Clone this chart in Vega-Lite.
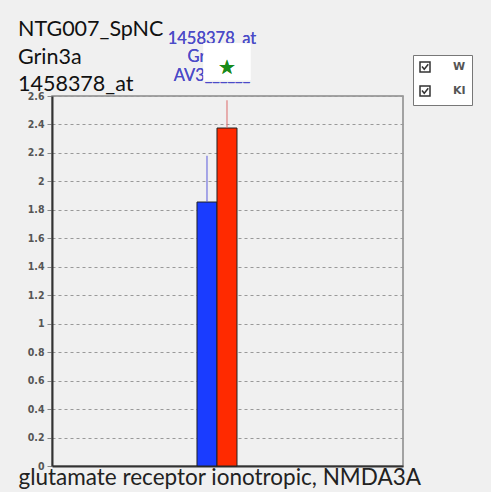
{
  "$schema": "https://vega.github.io/schema/vega-lite/v6.json",
  "autosize": "none",
  "padding": {"left": 52, "top": 96, "right": 88, "bottom": 26},
  "width": 351,
  "height": 370,
  "background": "#f0f0f0",
  "config": {
    "view": {"stroke": "#888888", "strokeWidth": 1.5},
    "font": "Lato",
    "axisY": {
      "labelOverlap": false,
      "title": null,
      "grid": true,
      "domainColor": "#333333",
      "domainWidth": 2,
      "tickColor": "#888888",
      "tickSize": 5,
      "labelFont": "DejaVu Sans Condensed",
      "labelFontSize": 10.5,
      "labelFontWeight": "bold",
      "labelColor": "#555555",
      "labelPadding": 3,
      "gridDash": [3, 3],
      "gridColor": "#999999",
      "gridWidth": 1
    }
  },
  "title": {
    "text": ["NTG007_SpNC", "Grin3a", "1458378_at"],
    "anchor": "start",
    "frame": "group",
    "dx": -34,
    "dy": 85,
    "offset": 3,
    "fontSize": 21.5,
    "font": "Lato",
    "fontWeight": "normal",
    "color": "#111111",
    "lineHeight": 27.5,
    "baseline": "alphabetic"
  },
  "data": {
    "values": [
      {"probe": "1458378_at", "genotype": "W", "mean": 1.855, "upper": 2.18},
      {"probe": "1458378_at", "genotype": "KI", "mean": 2.375, "upper": 2.57}
    ]
  },
  "encoding": {
    "x": {
      "field": "probe",
      "type": "nominal",
      "scale": {"paddingInner": 0.7428, "paddingOuter": 1, "align": 0.4662},
      "axis": {
        "labels": false,
        "ticks": false,
        "domainColor": "#333333",
        "domainWidth": 2,
        "title": "glutamate receptor ionotropic, NMDA3A",
        "titleAnchor": "start",
        "titleAlign": "left",
        "titleX": -34,
        "titleY": 18,
        "titleBaseline": "alphabetic",
        "titleFontSize": 22.5,
        "titleFontWeight": "normal",
        "titleFont": "Lato",
        "titleColor": "#222222"
      }
    }
  },
  "layer": [
    {
      "mark": {"type": "point", "filled": true, "fill": "#ffffff", "stroke": "#333333", "size": 100, "strokeWidth": 1.5},
      "encoding": {
        "xOffset": {"field": "genotype", "type": "nominal", "scale": {"domain": ["W", "KI"], "paddingInner": 0}},
        "y": {"datum": 1, "type": "quantitative", "axis": {"values": [0, 0.2, 0.4, 0.6, 0.8, 1, 1.2, 1.4, 1.6, 1.8, 2, 2.2, 2.4, 2.6], "tickCount": 20, "grid": true, "format": ".1~f", "labelOverlap": false, "title": null}},
        "shape": {
          "field": "genotype",
          "type": "nominal",
          "sort": ["W", "KI"],
          "scale": {"range": ["M-1,-1H1V1H-1Z M-0.6,-0.1L-0.15,0.45L0.65,-0.55", "M-1,-1H1V1H-1Z M-0.6,-0.1L-0.15,0.45L0.65,-0.55"]},
          "legend": {
            "orient": "none",
            "legendX": 361,
            "legendY": -41,
            "direction": "vertical",
            "title": null,
            "strokeColor": "#777777",
            "fillColor": "#ffffff",
            "padding": 6,
            "symbolSize": 100,
            "symbolOpacity": 1,
            "symbolStrokeWidth": 1.5,
            "labelOffset": 22,
            "rowPadding": 8,
            "labelFontSize": 11,
            "labelFontWeight": "bold",
            "labelColor": "#555555",
            "labelFont": "DejaVu Sans"
          }
        }
      }
    },
    {
      "mark": {"type": "bar", "stroke": "#222222", "strokeWidth": 1},
      "encoding": {
        "xOffset": {"field": "genotype", "type": "nominal", "scale": {"domain": ["W", "KI"], "paddingInner": 0}},
        "y": {
          "field": "mean",
          "type": "quantitative",
          "scale": {"domain": [0, 2.6], "nice": false},
          "axis": {"values": [0, 0.2, 0.4, 0.6, 0.8, 1, 1.2, 1.4, 1.6, 1.8, 2, 2.2, 2.4, 2.6], "tickCount": 20, "grid": true, "format": ".1~f", "labelOverlap": false, "title": null}
        },
        "fill": {
          "field": "genotype",
          "type": "nominal",
          "scale": {"domain": ["W", "KI"], "range": ["#1a3cff", "#ff2a00"]},
          "legend": null
        }
      }
    },
    {
      "mark": {"type": "rule", "strokeWidth": 1},
      "encoding": {
        "xOffset": {"field": "genotype", "type": "nominal", "scale": {"domain": ["W", "KI"], "paddingInner": 0}},
        "y": {"field": "mean", "type": "quantitative", "axis": {"values": [0, 0.2, 0.4, 0.6, 0.8, 1, 1.2, 1.4, 1.6, 1.8, 2, 2.2, 2.4, 2.6], "tickCount": 20, "grid": true, "format": ".1~f", "labelOverlap": false, "title": null}},
        "y2": {"field": "upper"},
        "stroke": {
          "field": "genotype",
          "type": "nominal",
          "scale": {"domain": ["W", "KI"], "range": ["#5b5bdc", "#dd6a6a"]},
          "legend": null
        }
      }
    },
    {
      "mark": {"type": "text", "text": ["1458378_at", "Grin3a", "AV3______"], "align": "center", "baseline": "alphabetic", "dx": -5, "fontSize": 16.5, "lineHeight": 18.5, "font": "Lato", "color": "#4b4bc8"},
      "encoding": {
        "y": {"datum": 2.966, "type": "quantitative", "axis": {"values": [0, 0.2, 0.4, 0.6, 0.8, 1, 1.2, 1.4, 1.6, 1.8, 2, 2.2, 2.4, 2.6], "tickCount": 20, "grid": true, "format": ".1~f", "labelOverlap": false, "title": null}}
      }
    },
    {
      "mark": {"type": "bar", "width": 47, "xOffset": 10, "fill": "#ffffff"},
      "encoding": {
        "y": {"datum": 2.97, "type": "quantitative", "axis": {"values": [0, 0.2, 0.4, 0.6, 0.8, 1, 1.2, 1.4, 1.6, 1.8, 2, 2.2, 2.4, 2.6], "tickCount": 20, "grid": true, "format": ".1~f", "labelOverlap": false, "title": null}},
        "y2": {"datum": 2.71}
      }
    },
    {
      "mark": {"type": "text", "text": "★", "align": "center", "baseline": "middle", "dx": 10, "font": "DejaVu Sans", "fontSize": 20, "color": "#1a8a1a"},
      "encoding": {
        "y": {"datum": 2.8, "type": "quantitative", "axis": {"values": [0, 0.2, 0.4, 0.6, 0.8, 1, 1.2, 1.4, 1.6, 1.8, 2, 2.2, 2.4, 2.6], "tickCount": 20, "grid": true, "format": ".1~f", "labelOverlap": false, "title": null}}
      }
    }
  ]
}
